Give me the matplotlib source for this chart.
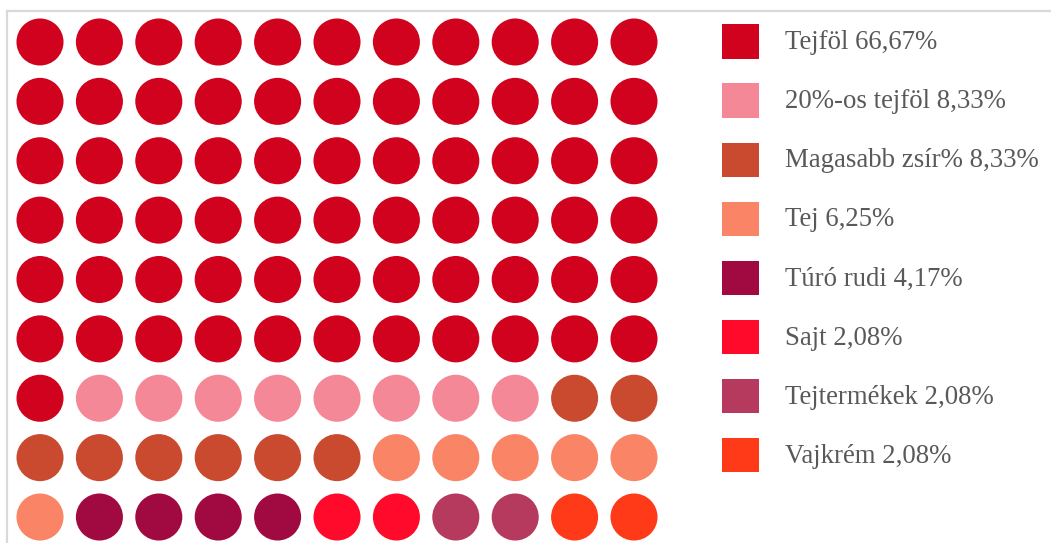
import matplotlib.pyplot as plt
from matplotlib.patches import Circle, Rectangle

# waffle: 11 oszlop x 9 sor
kategoriak = ["Tejföl", "20%-os tejföl", "Magasabb zsír%", "Tej",
              "Túró rudi", "Sajt", "Tejtermékek", "Vajkrém"]
szazalekok = ["66,67%", "8,33%", "8,33%", "6,25%", "4,17%", "2,08%", "2,08%", "2,08%"]
korok_szama = [67, 8, 8, 6, 4, 2, 2, 2]
szinek = ["#D0021E", "#F48896", "#C94A2E", "#FA8466",
          "#A00A40", "#FF0A2A", "#B53A5E", "#FF3A18"]
oszlopok = 11
sorok = 9

fig = plt.figure(figsize=(10.51, 5.43), dpi=100)

# halvány keret bal és felső oldalon
keret = fig.add_axes([7 / 1051, -0.01, 1.0, (543 - 11) / 543 + 0.01])
keret.set_xticks([])
keret.set_yticks([])
keret.patch.set_alpha(0)
for oldal in ["right", "bottom"]:
    keret.spines[oldal].set_visible(False)
for oldal in ["left", "top"]:
    keret.spines[oldal].set_color("#d9d9d9")
    keret.spines[oldal].set_linewidth(1.6)

# körök
ax = fig.add_axes([10.3 / 1051, -3.7 / 543, 653.4 / 1051, 534.4 / 543])
ax.set_xlim(-0.5, oszlopok - 0.5)
ax.set_ylim(sorok - 0.5, -0.5)
ax.axis("off")
k = 0
for szin, db in zip(szinek, korok_szama):
    for _ in range(db):
        sor, osz = divmod(k, oszlopok)
        ax.add_patch(Circle((osz, sor), 0.396, color=szin, lw=0))
        k += 1

# jelmagyarázat
lg = fig.add_axes([700 / 1051, (543 - 484.5) / 543, 351 / 1051, 472.5 / 543])
lg.set_xlim(0, 351)
lg.set_ylim(len(kategoriak) - 0.5, -0.5)
lg.axis("off")
for i, (nev, sz, szin) in enumerate(zip(kategoriak, szazalekok, szinek)):
    lg.add_patch(Rectangle((22, i - 0.29), 37, 0.58, color=szin, lw=0))
    lg.text(85, i + 0.02, nev + " " + sz, va="center", ha="left", fontsize=19.3,
            family="Liberation Serif", color="#595959")

fig.savefig("out.png", dpi=100)
